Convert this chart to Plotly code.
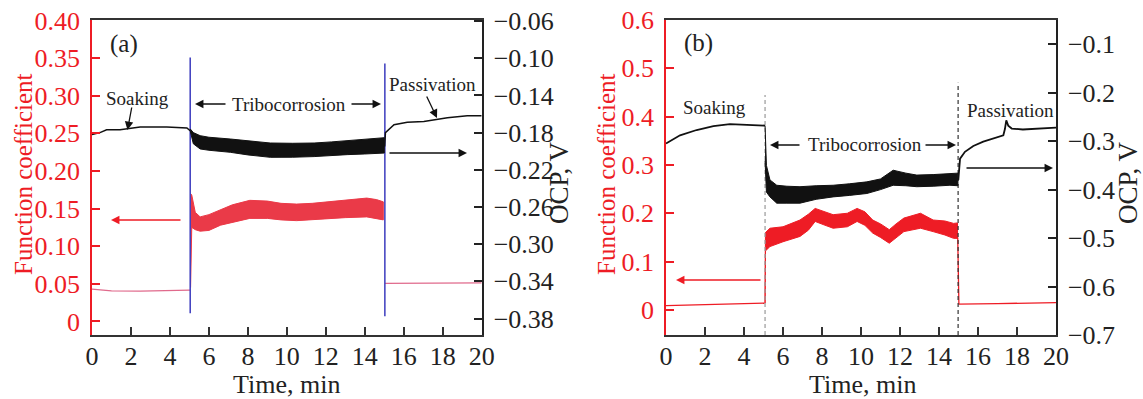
import plotly.graph_objects as go

# ---------------- data: panel (a) ----------------
a_soak_t = [0, 0.41, 0.75, 1.44, 2.47, 3.84, 4.87, 5.04]
a_soak_ocp = [-0.182, -0.180, -0.177, -0.177, -0.174, -0.174, -0.175, -0.178]

a_tribo_t = [5.04, 5.2, 5.55, 6.0, 7.1, 8.0, 9.15, 10.3, 11.4, 12.3, 13.1, 14.0, 14.8, 15.0]
a_tribo_ocp_hi = [-0.176, -0.180, -0.1833, -0.185, -0.1869, -0.189, -0.1912, -0.1915, -0.1912, -0.190, -0.1887, -0.187, -0.1858, -0.1855]
a_tribo_ocp_lo = [-0.178, -0.192, -0.1976, -0.199, -0.2012, -0.204, -0.2066, -0.2065, -0.2058, -0.205, -0.2037, -0.203, -0.2023, -0.202]

a_pass_t = [15.02, 15.06, 15.5, 16.18, 17.03, 18.24, 19.26, 20]
a_pass_ocp = [-0.195, -0.180, -0.1715, -0.169, -0.168, -0.164, -0.162, -0.162]

a_fric_soak_t = [0, 0.5, 1.0, 2.47, 4.0, 4.95, 5.03]
a_fric_soak = [0.043, 0.042, 0.0407, 0.0403, 0.041, 0.0416, 0.0416]

a_fric_tribo_t = [5.06, 5.12, 5.3, 5.55, 6.0, 6.6, 7.2, 8.1, 9.0, 9.7, 10.5, 11.3, 12.2, 13.0, 14.1, 14.6, 14.95]
a_fric_tribo_hi = [0.170, 0.168, 0.145, 0.139, 0.142, 0.148, 0.155, 0.161, 0.160, 0.157, 0.156, 0.157, 0.159, 0.161, 0.164, 0.162, 0.159]
a_fric_tribo_lo = [0.045, 0.125, 0.122, 0.120, 0.121, 0.128, 0.132, 0.137, 0.137, 0.135, 0.134, 0.135, 0.137, 0.138, 0.139, 0.137, 0.135]

a_fric_pass_t = [15.04, 16, 18, 20]
a_fric_pass = [0.0505, 0.0505, 0.051, 0.0513]

a_marker_t = [5.04, 15.03]
a_marker_lo = [0.011, 0.007]
a_marker_hi = [0.351, 0.343]

# ---------------- data: panel (b) ----------------
b_soak_t = [0, 0.72, 1.57, 2.43, 3.28, 4.14, 4.99, 5.08]
b_soak_ocp = [-0.305, -0.288, -0.277, -0.269, -0.265, -0.266, -0.267, -0.268]

b_tribo_t = [5.08, 5.15, 5.33, 5.68, 6.2, 6.87, 7.7, 8.57, 9.4, 10.3, 11.0, 11.65, 12.3, 12.86, 13.7, 14.56, 14.97]
b_tribo_ocp_hi = [-0.268, -0.350, -0.380, -0.391, -0.393, -0.394, -0.392, -0.391, -0.388, -0.384, -0.378, -0.360, -0.366, -0.370, -0.369, -0.367, -0.366]
b_tribo_ocp_lo = [-0.340, -0.405, -0.415, -0.428, -0.428, -0.428, -0.420, -0.415, -0.412, -0.408, -0.400, -0.391, -0.392, -0.394, -0.393, -0.391, -0.392]

b_pass_t = [14.99, 15.08, 15.33, 15.76, 16.27, 16.8, 17.3, 17.38, 17.45, 17.55, 17.73, 18.3, 19.0, 19.86, 20]
b_pass_ocp = [-0.380, -0.336, -0.322, -0.310, -0.301, -0.294, -0.288, -0.275, -0.257, -0.268, -0.274, -0.276, -0.274, -0.272, -0.272]

b_fric_soak_t = [0, 5.05]
b_fric_soak = [0.009, 0.014]

b_fric_tribo_t = [5.08, 5.1, 5.33, 6.0, 6.87, 7.3, 7.65, 8.1, 8.57, 9.3, 9.8, 10.2, 10.6, 11.0, 11.45, 11.8, 12.2, 13.05, 13.7, 14.3, 14.75, 14.95]
b_fric_tribo_hi = [0.014, 0.160, 0.169, 0.172, 0.186, 0.198, 0.210, 0.203, 0.197, 0.200, 0.210, 0.203, 0.186, 0.178, 0.166, 0.178, 0.190, 0.200, 0.186, 0.184, 0.179, 0.180]
b_fric_tribo_lo = [0.014, 0.122, 0.131, 0.141, 0.152, 0.165, 0.183, 0.176, 0.169, 0.172, 0.183, 0.175, 0.159, 0.150, 0.138, 0.150, 0.162, 0.169, 0.162, 0.155, 0.148, 0.148]

b_fric_pass_t = [14.96, 14.99, 15.02, 17, 20]
b_fric_pass = [0.150, 0.030, 0.0118, 0.013, 0.015]

b_marker_t = [5.08, 14.98]
b_marker_lo = [-0.052, -0.052]
b_marker_hi = [0.445, 0.470]

# ---------------- ticks ----------------
x_ticks = list(range(0, 21, 2))
a_left_vals = [0, 0.05, 0.10, 0.15, 0.20, 0.25, 0.30, 0.35, 0.40]
a_left_text = ["0", "0.05", "0.10", "0.15", "0.20", "0.25", "0.30", "0.35", "0.40"]
a_right_vals = [-0.06, -0.10, -0.14, -0.18, -0.22, -0.26, -0.30, -0.34, -0.38]
a_right_text = ["\u22120.06", "\u22120.10", "\u22120.14", "\u22120.18", "\u22120.22",
                "\u22120.26", "\u22120.30", "\u22120.34", "\u22120.38"]
b_left_vals = [0, 0.1, 0.2, 0.3, 0.4, 0.5, 0.6]
b_left_text = ["0", "0.1", "0.2", "0.3", "0.4", "0.5", "0.6"]
b_right_vals = [-0.1, -0.2, -0.3, -0.4, -0.5, -0.6, -0.7]
b_right_text = ["\u22120.1", "\u22120.2", "\u22120.3", "\u22120.4", "\u22120.5", "\u22120.6", "\u22120.7"]

RED = "#ee1c25"
RED_A = "#ea3a48"
PINK = "#e06a8c"
BLACK = "#111111"
BLUE = "#3c3cbe"
FONT = "Liberation Serif"
W, H = 1143, 399


def px(x):
    return x / W


def py(y):
    return 1 - y / H


def band(t, hi, lo):
    return list(t) + list(t)[::-1], list(hi) + list(lo)[::-1]


fig = go.Figure()

# ----- panel (a) -----
fig.add_trace(go.Scatter(x=a_fric_soak_t, y=a_fric_soak, mode="lines",
                         line=dict(color=PINK, width=1.2), xaxis="x", yaxis="y"))
bx, by = band(a_fric_tribo_t, a_fric_tribo_hi, a_fric_tribo_lo)
fig.add_trace(go.Scatter(x=bx, y=by, mode="lines", fill="toself", fillcolor=RED_A,
                         line=dict(color=RED_A, width=1), xaxis="x", yaxis="y"))
fig.add_trace(go.Scatter(x=a_fric_pass_t, y=a_fric_pass, mode="lines",
                         line=dict(color=PINK, width=1.2), xaxis="x", yaxis="y"))
for t, lo, hi in zip(a_marker_t, a_marker_lo, a_marker_hi):
    fig.add_trace(go.Scatter(x=[t, t], y=[lo, hi], mode="lines",
                             line=dict(color=BLUE, width=1.5), xaxis="x", yaxis="y"))

fig.add_trace(go.Scatter(x=a_soak_t, y=a_soak_ocp, mode="lines",
                         line=dict(color=BLACK, width=1.5), xaxis="x", yaxis="y2"))
bx, by = band(a_tribo_t, a_tribo_ocp_hi, a_tribo_ocp_lo)
fig.add_trace(go.Scatter(x=bx, y=by, mode="lines", fill="toself", fillcolor=BLACK,
                         line=dict(color=BLACK, width=1), xaxis="x", yaxis="y2"))
fig.add_trace(go.Scatter(x=a_pass_t, y=a_pass_ocp, mode="lines",
                         line=dict(color=BLACK, width=1.5), xaxis="x", yaxis="y2"))

# ----- panel (b) -----
fig.add_trace(go.Scatter(x=b_fric_soak_t, y=b_fric_soak, mode="lines",
                         line=dict(color=RED, width=1.3), xaxis="x2", yaxis="y3"))
bx, by = band(b_fric_tribo_t, b_fric_tribo_hi, b_fric_tribo_lo)
fig.add_trace(go.Scatter(x=bx, y=by, mode="lines", fill="toself", fillcolor=RED,
                         line=dict(color=RED, width=1), xaxis="x2", yaxis="y3"))
fig.add_trace(go.Scatter(x=b_fric_pass_t, y=b_fric_pass, mode="lines",
                         line=dict(color=RED, width=1.3), xaxis="x2", yaxis="y3"))
for t, lo, hi, c in zip(b_marker_t, b_marker_lo, b_marker_hi, ["#999999", "#333333"]):
    fig.add_trace(go.Scatter(x=[t, t], y=[lo, hi], mode="lines",
                             line=dict(color=c, width=1.2, dash="4px,3px"),
                             xaxis="x2", yaxis="y3"))

fig.add_trace(go.Scatter(x=b_soak_t, y=b_soak_ocp, mode="lines",
                         line=dict(color=BLACK, width=1.8), xaxis="x2", yaxis="y4"))
bx, by = band(b_tribo_t, b_tribo_ocp_hi, b_tribo_ocp_lo)
fig.add_trace(go.Scatter(x=bx, y=by, mode="lines", fill="toself", fillcolor=BLACK,
                         line=dict(color=BLACK, width=1), xaxis="x2", yaxis="y4"))
fig.add_trace(go.Scatter(x=b_pass_t, y=b_pass_ocp, mode="lines",
                         line=dict(color=BLACK, width=1.8), xaxis="x2", yaxis="y4"))

# ----- axes -----
ydom = [py(335), py(20)]
common_x = dict(range=[0, 20], tickvals=x_ticks, ticks="inside", ticklen=8, tickwidth=1.5,
                tickcolor="#333", showline=True, linecolor="#333", linewidth=1.5, mirror=True,
                showgrid=False, zeroline=False, tickfont=dict(family=FONT, size=26, color="#222"),
                ticklabelstandoff=-3, automargin=False)


def yax(rng, vals, text, color, side, **kw):
    d = dict(range=rng, tickvals=vals, ticktext=text, ticks="inside", ticklen=8, tickwidth=1.5,
             tickcolor=color, showline=True, linecolor=color, linewidth=1.5,
             showgrid=False, zeroline=False, side=side, automargin=False,
             tickfont=dict(family=FONT, size=26, color=color), ticklabelstandoff=5)
    d.update(kw)
    return d


fig.update_layout(
    width=W, height=H, margin=dict(l=0, r=0, t=0, b=0, autoexpand=False),
    paper_bgcolor="white", plot_bgcolor="white", showlegend=False,
    font=dict(family=FONT, size=26, color="#222"),
    xaxis=dict(domain=[px(92), px(481.7)], anchor="y", **common_x),
    xaxis2=dict(domain=[px(666), px(1056)], anchor="y3", **common_x),
    yaxis=yax([-0.018, 0.4007], a_left_vals, a_left_text, RED, "left", domain=ydom, anchor="x"),
    yaxis2=yax([-0.3977, -0.0589], a_right_vals, a_right_text, "#222", "right",
               overlaying="y", anchor="x"),
    yaxis3=yax([-0.052, 0.6], b_left_vals, b_left_text, RED, "left", domain=ydom, anchor="x2"),
    yaxis4=yax([-0.7, -0.05], b_right_vals, b_right_text, "#222", "right",
               overlaying="y3", anchor="x2"),
)

ann = []


def text(x, y, s, size=19, color="#222", angle=0):
    ann.append(dict(x=px(x), y=py(y), xref="paper", yref="paper", text=s, showarrow=False,
                    xanchor="center", yanchor="middle", textangle=angle,
                    font=dict(family=FONT, size=size, color=color)))


def arrow(x0, y0, x1, y1, color="#111"):
    ann.append(dict(x=px(x1), y=py(y1), xref="paper", yref="paper", ax=x0 - x1, ay=y0 - y1,
                    axref="pixel", ayref="pixel", text="", showarrow=True, arrowhead=2,
                    arrowsize=1.3, arrowwidth=1.3, arrowcolor=color, standoff=0, startstandoff=0))


# axis titles
text(23, 174, "Function coefficient", 25, RED, -90)
text(606, 174, "Function coefficient", 25, RED, -90)
text(559, 183, "OCP, V", 27, "#222", -90)
text(1128, 183, "OCP, V", 27, "#222", -90)
text(287, 384, "Time, min", 26)
text(862, 384, "Time, min", 26)

# panel (a) labels
text(124, 44, "(a)", 25)
text(137, 98, "Soaking", 19)
arrow(132, 106, 127.5, 130)
text(289, 104, "Tribocorrosion", 19)
arrow(227, 104, 195, 104)
arrow(350, 104, 381, 104)
text(432, 85, "Passivation", 19)
arrow(426, 95, 437, 118)
arrow(388, 153, 467, 153)
arrow(182, 220, 111, 220, RED)

# panel (b) labels
text(698, 43, "(b)", 25)
text(714, 107, "Soaking", 19)
text(865, 145, "Tribocorrosion", 19)
arrow(801, 145, 770, 145)
arrow(924, 145, 956, 145)
text(1011, 110, "Passivation", 19)
arrow(965, 168, 1053, 168)
arrow(762, 280, 676, 280, RED)

fig.update_layout(annotations=ann)
fig.write_html("out.html")
